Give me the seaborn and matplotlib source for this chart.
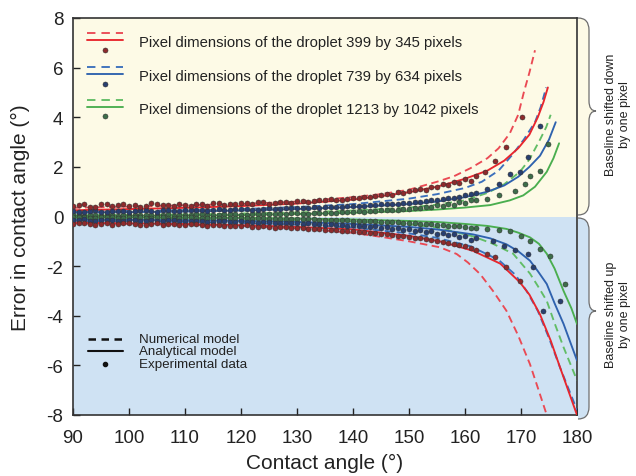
import numpy as np
import pandas as pd
import matplotlib
matplotlib.use("Agg")
import matplotlib.pyplot as plt
from matplotlib.path import Path
from matplotlib.patches import PathPatch
import seaborn as sns

# ---------------- data ----------------
x_ticks = [90, 100, 110, 120, 130, 140, 150, 160, 170, 180]
y_ticks = [-8, -6, -4, -2, 0, 2, 4, 6, 8]
legend_labels = ["Pixel dimensions of the droplet 399 by 345 pixels",
                 "Pixel dimensions of the droplet 739 by 634 pixels",
                 "Pixel dimensions of the droplet 1213 by 1042 pixels"]
model_labels = ["Numerical model", "Analytical model", "Experimental data"]

# baseline shifted down (positive error)
red_num_up_x = [90, 100, 110, 120, 130, 140, 145, 150, 155, 158, 161, 164, 166, 168, 169.5, 170.5, 171.5, 172.5]
red_num_up_y = [0.35, 0.40, 0.45, 0.50, 0.60, 0.78, 0.90, 1.08, 1.40, 1.62, 1.95, 2.35, 2.75, 3.35, 4.1, 5.0, 5.8, 6.7]
red_ana_up_x = [90, 100, 110, 120, 130, 140, 145, 150, 155, 160, 164, 167, 169.5, 171.5, 173, 174, 174.8]
red_ana_up_y = [0.25, 0.30, 0.35, 0.42, 0.52, 0.68, 0.82, 0.98, 1.20, 1.52, 1.85, 2.25, 2.75, 3.3, 4.0, 4.6, 5.2]
blue_num_up_x = [90, 110, 120, 130, 140, 150, 155, 160, 163, 166, 168.5, 170.5, 172.5, 173.5, 174.5]
blue_num_up_y = [0.20, 0.25, 0.30, 0.38, 0.50, 0.72, 0.90, 1.15, 1.40, 1.85, 2.5, 3.1, 3.8, 4.4, 5.2]
blue_ana_up_x = [90, 110, 120, 130, 140, 150, 155, 160, 164, 167, 169.5, 171.5, 173.4, 175, 176.2]
blue_ana_up_y = [0.15, 0.20, 0.24, 0.30, 0.38, 0.50, 0.60, 0.78, 1.00, 1.25, 1.6, 2.0, 2.45, 3.1, 3.8]
green_num_up_x = [90, 110, 120, 130, 140, 150, 155, 160, 164, 167, 169.8, 171.5, 173.4, 174.5, 175.3]
green_num_up_y = [0.05, 0.08, 0.12, 0.16, 0.24, 0.36, 0.48, 0.65, 0.95, 1.3, 1.8, 2.3, 3.1, 3.6, 4.1]
green_ana_up_x = [90, 110, 120, 130, 140, 150, 155, 160, 164.5, 168, 170.4, 172.5, 174.6, 175.8, 176.8]
green_ana_up_y = [0.02, 0.04, 0.06, 0.10, 0.15, 0.22, 0.28, 0.36, 0.46, 0.65, 0.85, 1.2, 1.8, 2.35, 2.95]

# baseline shifted up (negative error)
red_num_dn_x = [90, 100, 110, 120, 130, 140, 145, 150, 155.5, 158.5, 160.5, 162.7, 165, 167.4, 169.5, 171.6, 173, 174.6]
red_num_dn_y = [-0.28, -0.30, -0.33, -0.38, -0.48, -0.66, -0.82, -1.0, -1.24, -1.51, -1.85, -2.32, -3.0, -3.8, -4.8, -5.95, -6.9, -8.0]
red_ana_dn_x = [90, 110, 120, 130, 140, 150, 155.5, 161.4, 166.3, 169.8, 171.5, 173.4, 175.3, 177, 178.5, 180]
red_ana_dn_y = [-0.25, -0.30, -0.35, -0.42, -0.52, -0.78, -1.0, -1.38, -1.9, -2.65, -3.15, -3.95, -5.0, -6.1, -7.05, -8.0]
blue_num_dn_x = [90, 110, 120, 130, 140, 150, 155, 161, 166, 169, 171, 173, 175, 177, 180]
blue_num_dn_y = [-0.18, -0.22, -0.26, -0.33, -0.45, -0.68, -0.86, -1.2, -1.75, -2.35, -3.0, -3.8, -4.9, -6.1, -7.8]
blue_ana_dn_x = [90, 110, 120, 130, 140, 150, 155, 161.4, 164.5, 167.4, 169.5, 171.6, 173, 174.6, 176, 177.6, 180]
blue_ana_dn_y = [-0.12, -0.15, -0.18, -0.22, -0.30, -0.42, -0.52, -0.72, -0.88, -1.12, -1.4, -1.78, -2.2, -2.72, -3.5, -4.33, -5.8]
green_num_dn_x = [90, 110, 120, 130, 140, 150, 155, 161.4, 165, 168.6, 171.6, 173, 174.6, 176, 177.6, 180]
green_num_dn_y = [-0.07, -0.10, -0.12, -0.15, -0.20, -0.32, -0.44, -0.8, -1.1, -1.5, -2.3, -2.8, -3.4, -4.3, -5.27, -6.6]
green_ana_dn_x = [90, 110, 120, 130, 140, 150, 155, 160, 164, 167.4, 169.5, 171.6, 173.2, 174.6, 176, 177.6, 179, 180]
green_ana_dn_y = [-0.03, -0.04, -0.05, -0.08, -0.12, -0.18, -0.22, -0.30, -0.38, -0.5, -0.65, -0.84, -1.1, -1.5, -2.1, -3.0, -3.7, -4.33]

# experimental data (even and odd degrees in the flat part, then tail points)
dot_x_even = [90, 92, 94, 96, 98, 100, 102, 104, 106, 108, 110, 112, 114, 116, 118, 120, 122, 124,
              126, 128, 130, 132, 134, 136, 138, 140, 142, 144, 146, 148, 150, 152, 154, 156, 158, 160, 162]
dot_x_odd = [91, 93, 95, 97, 99, 101, 103, 105, 107, 109, 111, 113, 115, 117, 119, 121, 123, 125,
             127, 129, 131, 133, 135, 137, 139, 141, 143, 145, 147, 149, 151, 153, 155, 157, 159, 161]

red_exp_up = [0.42, 0.50, 0.38, 0.52, 0.45, 0.44, 0.40, 0.54, 0.47, 0.42, 0.48, 0.52, 0.44, 0.53, 0.49,
              0.56, 0.50, 0.58, 0.53, 0.60, 0.62, 0.58, 0.66, 0.70, 0.68, 0.75, 0.80, 0.84, 0.90, 0.98,
              1.02, 1.10, 1.20, 1.30, 1.38, 1.50, 1.62]
red_exp_up_odd = [0.46, 0.40, 0.49, 0.43, 0.50, 0.47, 0.42, 0.51, 0.45, 0.50, 0.44, 0.49, 0.55, 0.47, 0.52,
                  0.54, 0.57, 0.51, 0.58, 0.56, 0.63, 0.61, 0.68, 0.66, 0.72, 0.74, 0.79, 0.86, 0.88, 0.95,
                  1.05, 1.08, 1.18, 1.25, 1.35, 1.45]
red_exp_up_tail_x = [163.6, 165.4, 167.4, 170.1]
red_exp_up_tail_y = [1.8, 2.25, 2.8, 4.0]

red_exp_dn = [-0.30, -0.26, -0.34, -0.28, -0.32, -0.27, -0.35, -0.30, -0.33, -0.29, -0.36, -0.31, -0.38,
              -0.34, -0.40, -0.37, -0.42, -0.40, -0.45, -0.43, -0.48, -0.50, -0.52, -0.55, -0.58, -0.60,
              -0.64, -0.68, -0.72, -0.78, -0.82, -0.88, -0.95, -1.02, -1.10, -1.20, -1.35]
red_exp_dn_odd = [-0.27, -0.31, -0.29, -0.33, -0.26, -0.31, -0.34, -0.28, -0.32, -0.35, -0.30, -0.36, -0.33,
                  -0.37, -0.39, -0.36, -0.41, -0.43, -0.42, -0.46, -0.47, -0.51, -0.53, -0.56, -0.57, -0.62,
                  -0.66, -0.70, -0.75, -0.80, -0.85, -0.91, -0.98, -1.06, -1.15, -1.28]
red_exp_dn_tail_x = [164, 165.4, 167.4, 169.8]
red_exp_dn_tail_y = [-1.5, -1.65, -2.05, -2.59]

blue_exp_up = [0.22, 0.18, 0.25, 0.20, 0.24, 0.19, 0.26, 0.22, 0.27, 0.21, 0.25, 0.28, 0.24, 0.30, 0.26,
               0.29, 0.27, 0.32, 0.30, 0.34, 0.33, 0.36, 0.35, 0.40, 0.38, 0.42, 0.44, 0.48, 0.50, 0.52,
               0.55, 0.60, 0.65, 0.70, 0.76, 0.85, 0.95]
blue_exp_up_odd = [0.20, 0.23, 0.19, 0.24, 0.21, 0.23, 0.25, 0.20, 0.26, 0.23, 0.27, 0.25, 0.28, 0.26, 0.29,
                   0.31, 0.28, 0.33, 0.32, 0.35, 0.34, 0.37, 0.39, 0.38, 0.41, 0.43, 0.46, 0.49, 0.51, 0.54,
                   0.58, 0.62, 0.67, 0.73, 0.80, 0.90]
blue_exp_up_tail_x = [164, 166, 168, 169.8, 171.3, 173.4]
blue_exp_up_tail_y = [1.1, 1.3, 1.71, 1.78, 2.39, 3.66]

blue_exp_dn = [-0.16, -0.12, -0.18, -0.14, -0.17, -0.13, -0.19, -0.15, -0.18, -0.16, -0.20, -0.17, -0.21,
               -0.19, -0.22, -0.20, -0.24, -0.22, -0.26, -0.25, -0.28, -0.27, -0.30, -0.32, -0.34, -0.36,
               -0.38, -0.40, -0.44, -0.48, -0.52, -0.56, -0.60, -0.66, -0.72, -0.80, -0.88]
blue_exp_dn_odd = [-0.14, -0.17, -0.13, -0.16, -0.18, -0.15, -0.17, -0.19, -0.16, -0.18, -0.20, -0.19, -0.22,
                   -0.20, -0.23, -0.21, -0.25, -0.24, -0.27, -0.26, -0.29, -0.31, -0.33, -0.35, -0.37, -0.39,
                   -0.42, -0.46, -0.50, -0.54, -0.58, -0.63, -0.69, -0.76, -0.84, -0.94]
blue_exp_dn_tail_x = [165, 167, 169, 171.3, 172.2, 173.9, 177]
blue_exp_dn_tail_y = [-1.0, -1.2, -1.35, -1.51, -2.05, -3.8, -3.4]

green_exp_up = [0.06, 0.03, 0.08, 0.05, 0.04, 0.07, 0.05, 0.08, 0.06, 0.04, 0.07, 0.09, 0.06, 0.08, 0.10,
                0.07, 0.11, 0.09, 0.12, 0.10, 0.13, 0.12, 0.15, 0.14, 0.17, 0.18, 0.20, 0.22, 0.25, 0.27,
                0.30, 0.33, 0.37, 0.42, 0.48, 0.55, 0.65]
green_exp_up_odd = [0.05, 0.07, 0.04, 0.06, 0.08, 0.05, 0.07, 0.06, 0.09, 0.07, 0.08, 0.10, 0.07, 0.09, 0.11,
                    0.08, 0.10, 0.12, 0.11, 0.13, 0.12, 0.14, 0.16, 0.15, 0.19, 0.21, 0.23, 0.26, 0.28, 0.31,
                    0.35, 0.39, 0.45, 0.51, 0.60, 0.68]
green_exp_up_tail_x = [164, 166, 168.9, 170.7, 171.6, 173.4, 174.9]
green_exp_up_tail_y = [0.72, 0.85, 1.04, 1.31, 1.65, 1.85, 2.92]

green_exp_dn = [-0.04, -0.02, -0.06, -0.03, -0.05, -0.02, -0.04, -0.06, -0.03, -0.05, -0.04, -0.07, -0.05,
                -0.06, -0.08, -0.06, -0.09, -0.08, -0.10, -0.09, -0.11, -0.12, -0.13, -0.14, -0.15, -0.17,
                -0.18, -0.20, -0.22, -0.24, -0.26, -0.29, -0.32, -0.35, -0.38, -0.42, -0.48]
green_exp_dn_odd = [-0.03, -0.05, -0.04, -0.03, -0.06, -0.04, -0.05, -0.03, -0.05, -0.06, -0.04, -0.06, -0.07,
                    -0.05, -0.07, -0.08, -0.07, -0.09, -0.10, -0.11, -0.11, -0.12, -0.14, -0.15, -0.16, -0.17,
                    -0.19, -0.21, -0.23, -0.25, -0.28, -0.30, -0.34, -0.37, -0.40, -0.45]
green_exp_dn_tail_x = [164, 166, 168, 170, 171.6, 173.4, 175.2, 177.9]
green_exp_dn_tail_y = [-0.5, -0.55, -0.6, -0.8, -0.98, -1.31, -1.58, -2.72]

# ---------------- style ----------------
sns.set_theme(style="white")
plt.rcParams["font.family"] = ["Liberation Sans", "DejaVu Sans"]
plt.rcParams["axes.linewidth"] = 1.2

RED, RED_D, RED_P = "#e8262d", "#ea4a54", "#8e2a2c"
BLUE, BLUE_D, BLUE_P = "#2f62ae", "#3b70bc", "#283f70"
GREEN, GREEN_D, GREEN_P = "#4aae4f", "#62bd66", "#3d6e4a"
YEL_BG, BLUE_BG = "#fdfae6", "#cfe2f3"
DASH = (0, (4, 2.4))
LW = 1.35

fig = plt.figure(figsize=(6.36, 4.77), dpi=100)
ax = fig.add_axes([73 / 636, 61 / 477, 504 / 636, 397 / 477])
ax.axhspan(0, 8, color=YEL_BG, zorder=0, lw=0)
ax.axhspan(-8, 0, color=BLUE_BG, zorder=0, lw=0)

def curve(xs, ys, color, ls):
    df = pd.DataFrame({"angle": xs, "err": ys})
    sns.lineplot(data=df, x="angle", y="err", ax=ax, color=color, linestyle=ls,
                 lw=LW, sort=False, estimator=None, zorder=3)

curve(red_num_up_x, red_num_up_y, RED_D, DASH)
curve(red_num_dn_x, red_num_dn_y, RED_D, DASH)
curve(blue_num_up_x, blue_num_up_y, BLUE_D, DASH)
curve(blue_num_dn_x, blue_num_dn_y, BLUE_D, DASH)
curve(green_num_up_x, green_num_up_y, GREEN_D, DASH)
curve(green_num_dn_x, green_num_dn_y, GREEN_D, DASH)
curve(red_ana_up_x, red_ana_up_y, RED, "-")
curve(red_ana_dn_x, red_ana_dn_y, RED, "-")
curve(blue_ana_up_x, blue_ana_up_y, BLUE, "-")
curve(blue_ana_dn_x, blue_ana_dn_y, BLUE, "-")
curve(green_ana_up_x, green_ana_up_y, GREEN, "-")
curve(green_ana_dn_x, green_ana_dn_y, GREEN, "-")

def dots(xs, ys, color):
    sns.scatterplot(x=xs, y=ys, ax=ax, color=color, s=13, edgecolor="#333333",
                    linewidth=0.4, zorder=4, legend=False)

dots(dot_x_even + dot_x_odd + green_exp_up_tail_x, green_exp_up + green_exp_up_odd + green_exp_up_tail_y, GREEN_P)
dots(dot_x_even + dot_x_odd + green_exp_dn_tail_x, green_exp_dn + green_exp_dn_odd + green_exp_dn_tail_y, GREEN_P)
dots(dot_x_even + dot_x_odd + blue_exp_up_tail_x, blue_exp_up + blue_exp_up_odd + blue_exp_up_tail_y, BLUE_P)
dots(dot_x_even + dot_x_odd + blue_exp_dn_tail_x, blue_exp_dn + blue_exp_dn_odd + blue_exp_dn_tail_y, BLUE_P)
dots(dot_x_even + dot_x_odd + red_exp_up_tail_x, red_exp_up + red_exp_up_odd + red_exp_up_tail_y, RED_P)
dots(dot_x_even + dot_x_odd + red_exp_dn_tail_x, red_exp_dn + red_exp_dn_odd + red_exp_dn_tail_y, RED_P)

ax.set_xlim(90, 180)
ax.set_ylim(-8, 8)
ax.set_xticks(x_ticks)
ax.set_yticks(y_ticks)
ax.set_xticklabels([str(v) for v in x_ticks])
ax.set_yticklabels([str(v) for v in y_ticks])
ax.tick_params(direction="in", length=5, width=1, labelsize=13.5, colors="#222222",
               left=True, bottom=True, top=False, right=False)
ax.tick_params(axis="x", pad=10)
ax.tick_params(axis="y", pad=7)
for s in ax.spines.values():
    s.set_color("#333333")
    s.set_linewidth(1.2)
ax.set_xlabel("Contact angle (°)", fontsize=15, color="#222222", labelpad=5)
ax.set_ylabel("Error in contact angle (°)", fontsize=15, color="#222222", labelpad=12)

# ---------------- top legend (stacked glyphs) ----------------
T = ax.transAxes
hx0, hx1, tx = 0.028, 0.099, 0.131
for yc, lab, cd, cs, cp in zip([0.9395, 0.854, 0.771], legend_labels,
                               [RED_D, BLUE_D, GREEN_D], [RED, BLUE, GREEN], [RED_P, BLUE_P, GREEN_P]):
    ax.plot([hx0, hx1], [yc + 0.023, yc + 0.023], transform=T, color=cd, lw=LW,
            linestyle=(0, (4.5, 3.2)), clip_on=False, zorder=6)
    ax.plot([hx0, hx1], [yc + 0.006, yc + 0.006], transform=T, color=cs, lw=LW,
            clip_on=False, zorder=6)
    ax.scatter([(hx0 + hx1) / 2], [yc - 0.019], transform=T, s=13, color=cp,
               edgecolor="#333333", linewidth=0.4, zorder=6, clip_on=False)
    ax.text(tx, yc, lab, transform=T, fontsize=10.7, color="#222222", va="center", ha="left")

# ---------------- bottom legend ----------------
for yc, lab, kind in zip([0.192, 0.160, 0.128], model_labels, ["dash", "solid", "dot"]):
    if kind == "dash":
        ax.plot([0.03, 0.099], [yc, yc], transform=T, color="#111111", lw=1.8,
                linestyle=(0, (3.0, 2.2)), zorder=6)
    elif kind == "solid":
        ax.plot([0.03, 0.099], [yc, yc], transform=T, color="#111111", lw=1.5, zorder=6)
    else:
        ax.scatter([0.0635], [yc], transform=T, s=9, color="#111111", zorder=6)
    ax.text(tx, yc, lab, transform=T, fontsize=9.6, color="#222222", va="center", ha="left")

# ---------------- right braces ----------------
W, H = 636.0, 477.0

def brace(ya, ym, yb, fill):
    x0, x1, x2 = 578.0, 589.0, 596.0
    pts = [(x0, ya), (x1, ya), (x1, ya + 12), (x1, ym - 10), (x1, ym), (x2, ym),
           (x1, ym), (x1, ym + 10), (x1, yb - 12), (x1, yb), (x0, yb)]
    codes = [Path.MOVETO, Path.CURVE3, Path.CURVE3, Path.LINETO, Path.CURVE3, Path.CURVE3,
             Path.CURVE3, Path.CURVE3, Path.LINETO, Path.CURVE3, Path.CURVE3]
    fp = [(x / W, 1 - y / H) for x, y in pts]
    fig.add_artist(PathPatch(Path(fp + [fp[0]], codes + [Path.LINETO]),
                             transform=fig.transFigure, facecolor=fill, edgecolor="none", zorder=1))
    fig.add_artist(PathPatch(Path(fp, codes), transform=fig.transFigure, facecolor="none",
                             edgecolor="#6e6e6e", lw=0.9, zorder=2))

brace(19, 112, 216, YEL_BG)
brace(219, 312, 420, BLUE_BG)
fig.text(618 / W, 1 - 115 / H, "Baseline shifted down\nby one pixel", rotation=90,
         ha="center", va="center", fontsize=9, color="#222222", linespacing=1.15)
fig.text(618 / W, 1 - 315 / H, "Baseline shifted up\nby one pixel", rotation=90,
         ha="center", va="center", fontsize=9, color="#222222", linespacing=1.15)

fig.savefig("out.png", dpi=100, facecolor="white")
